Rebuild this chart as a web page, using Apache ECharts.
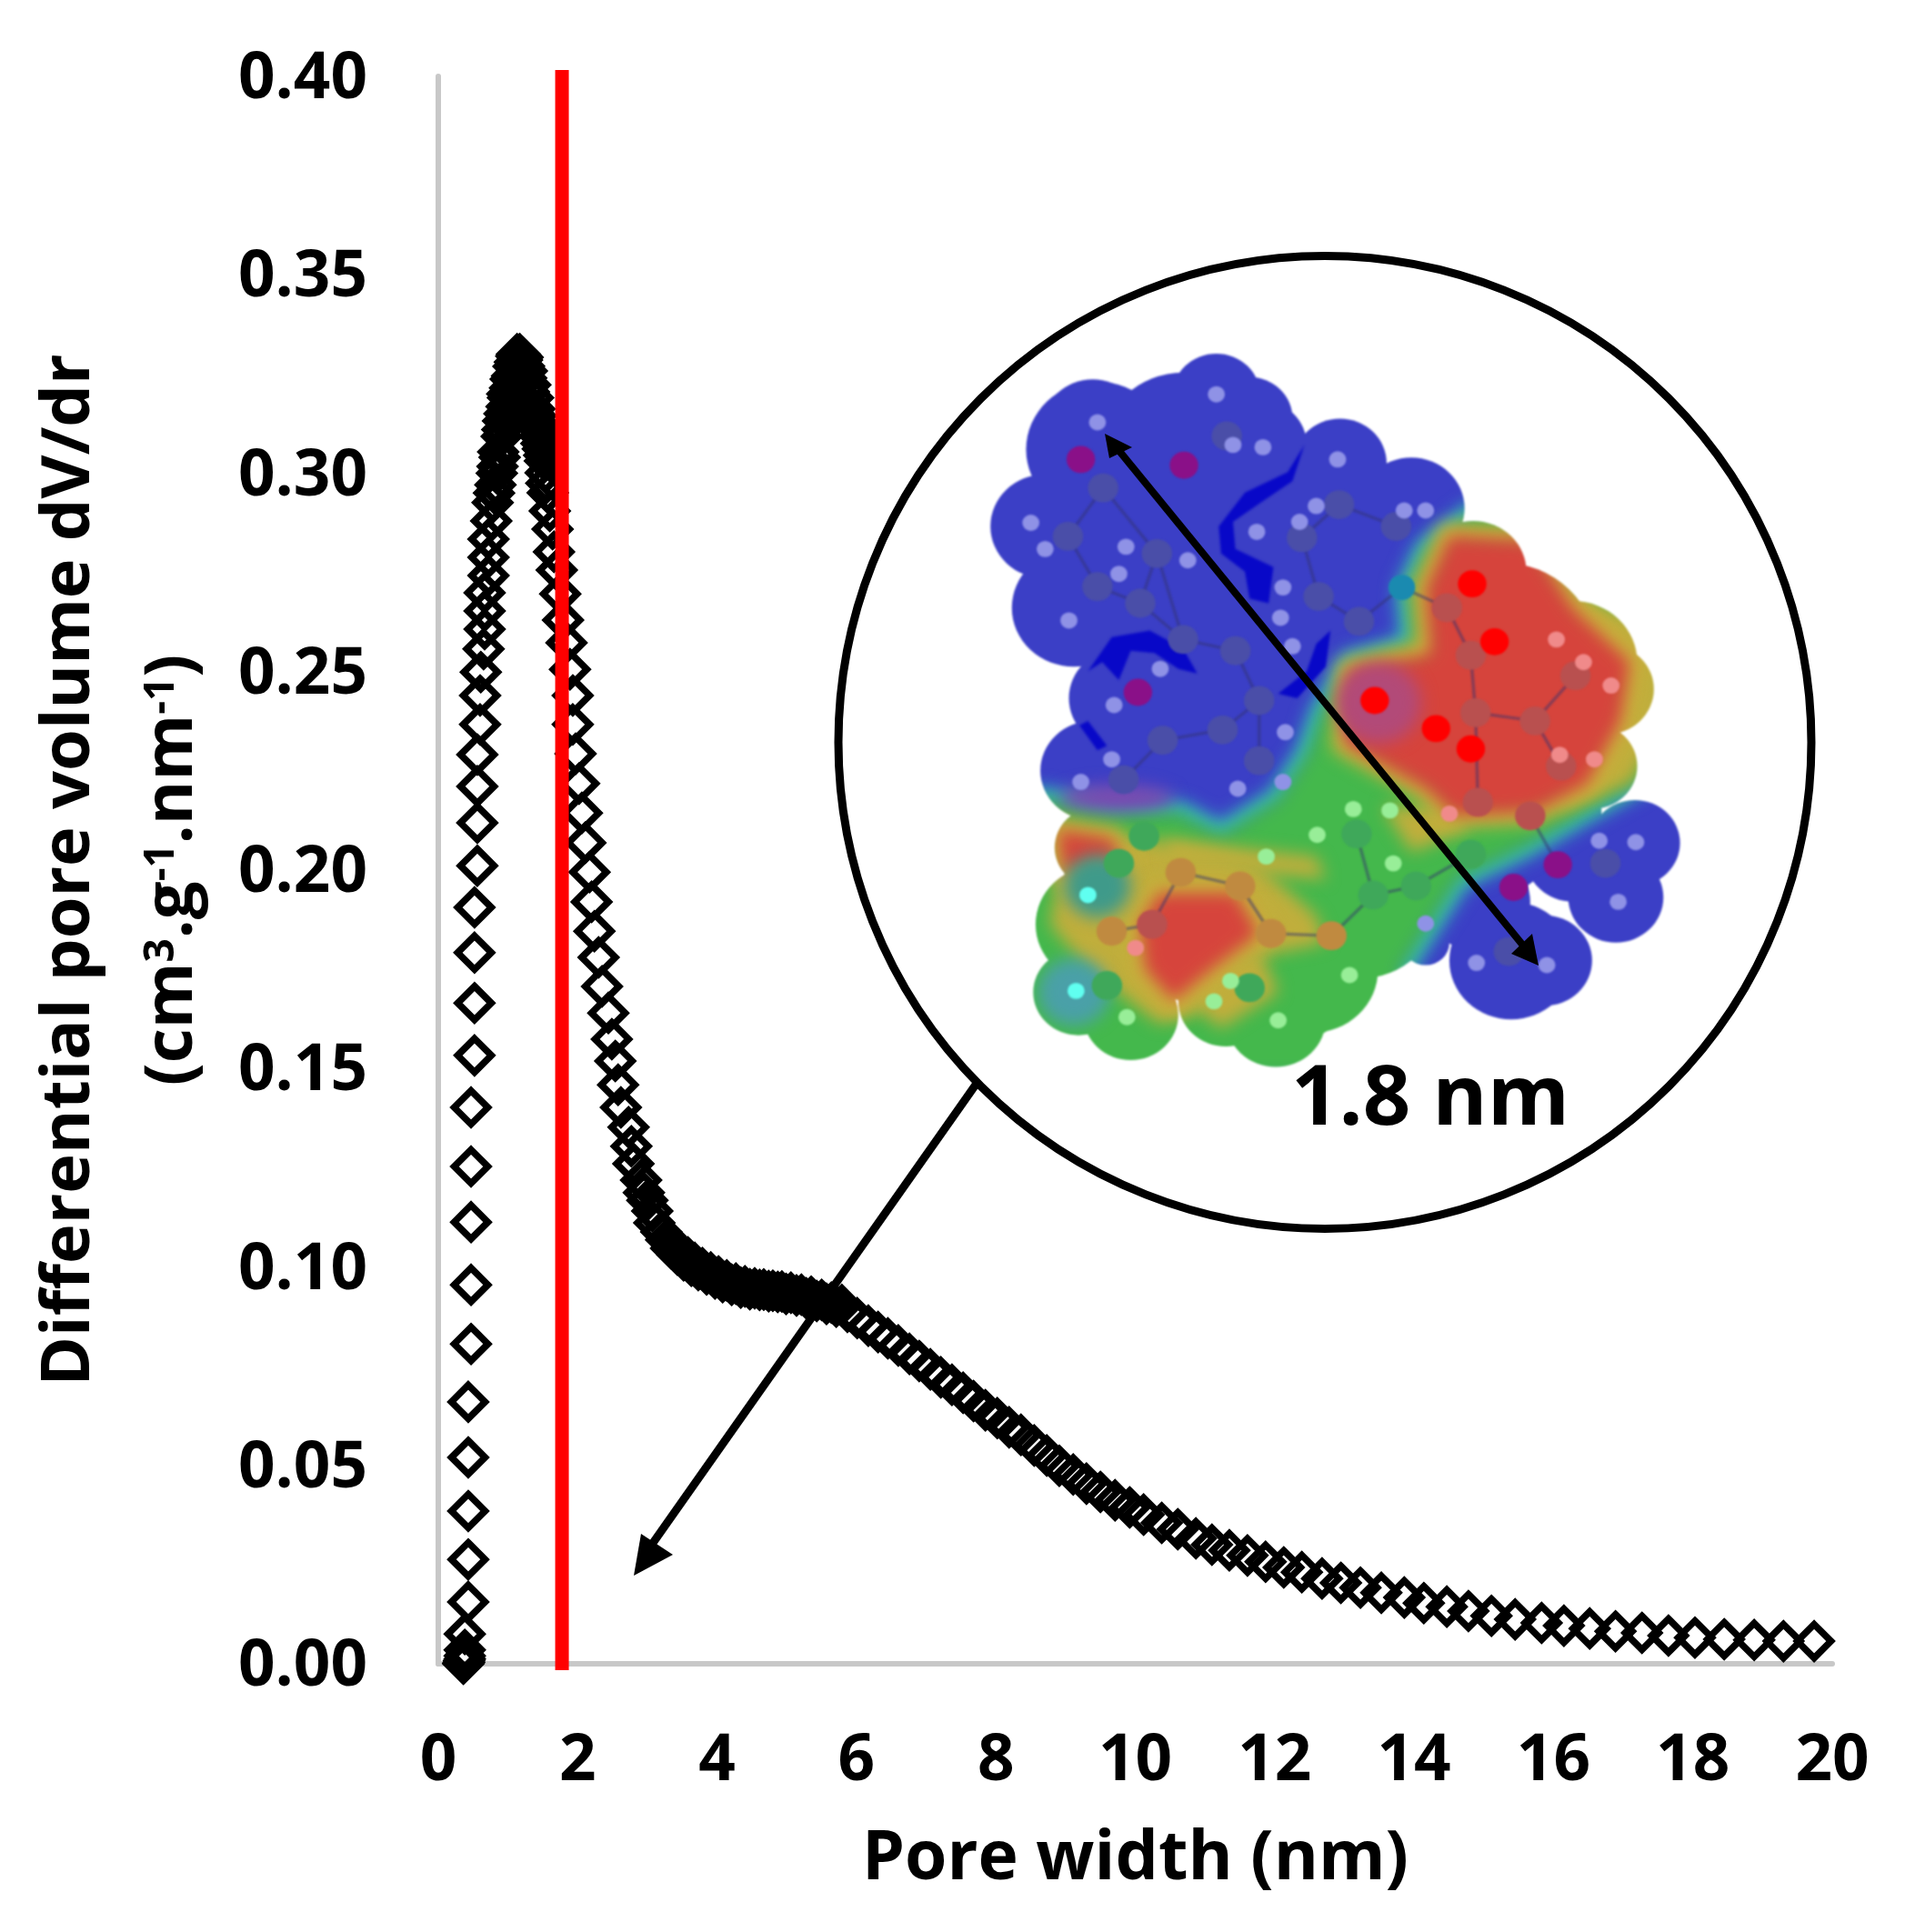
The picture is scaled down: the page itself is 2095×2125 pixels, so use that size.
<!DOCTYPE html>
<html>
<head>
<meta charset="utf-8">
<style>html,body{margin:0;padding:0;background:#fff}#c{width:2095px;height:2125px}</style>
<script src="https://cdn.jsdelivr.net/npm/echarts@6/dist/echarts.min.js"></script>
</head>
<body>
<div id="c"></div>
<script>
// ---------- chart values ----------
const xTicks = [0, 2, 4, 6, 8, 10, 12, 14, 16, 18, 20];
const yTicks = [0, 0.05, 0.10, 0.15, 0.20, 0.25, 0.30, 0.35, 0.40];
const microporeLimit = [1.775, 1.775];
const microporeLimitY = [-0.0016, 0.4016];
const poreWidth = [
0.36,0.36,0.37,0.37,0.38,0.38,0.38,0.38,0.43,0.43,0.43,0.43,0.43,0.47,0.47,0.47,0.47,0.47,0.52,0.52,
0.52,0.52,0.56,0.56,0.56,0.56,0.60,0.60,0.61,0.65,0.665,0.665,0.665,0.72,0.72,0.72,0.76,0.78,0.82,0.85,
0.86,0.91,0.93,0.98,0.99,1.04,1.08,1.12,1.15,1.18,1.21,1.27,1.32,1.36,1.38,1.42,1.46,1.50,1.53,1.54,
1.55,1.57,1.60,1.64,1.66,1.70,1.75,1.79,1.84,1.89,1.93,1.93,1.97,2.02,2.06,2.11,2.17,2.20,2.24,2.30,
2.35,2.44,2.49,2.54,2.58,2.62,2.73,2.77,2.80,2.91,2.95,3.00,3.07,3.10,3.20,3.27,3.34,3.43,3.52,3.63,
3.73,3.85,3.97,4.08,4.21,4.34,4.47,4.61,4.74,4.87,4.99,5.14,5.28,5.43,5.57,5.71,5.87,6.01,6.17,6.31,
6.45,6.60,6.76,6.90,7.06,7.21,7.37,7.53,7.68,7.85,8.02,8.19,8.36,8.55,8.73,8.91,9.11,9.30,9.50,9.71,
9.92,10.12,10.38,10.61,10.87,11.10,11.35,11.61,11.87,12.13,12.39,12.68,12.95,13.23,13.53,13.86,14.14,14.47,14.78,15.11,
15.45,15.83,16.15,16.52,16.89,17.27,17.65,18.03,18.45,18.88,19.30,19.74,
0.80,0.84,0.88,0.92,0.95,1.00,1.03,1.06,1.10,1.13,1.17,1.20,1.23,1.26,1.30,1.33,1.40,1.44,1.48,1.52,
3.38,3.48,3.58,3.68,3.79,3.91,4.02,4.14,4.27,4.40,4.54,4.67,4.80,4.93,5.06,5.21,5.35,5.50,5.64,5.79];
const poreVolume = [
0.0000,0.0002,0.0004,0.0008,0.0012,0.0020,0.0035,0.0075,0.0156,0.0263,0.0385,0.0520,0.0660,0.0806,0.0955,0.1113,0.1253,0.1402,0.1533,0.1665,
0.1792,0.1906,0.2011,0.2119,0.2211,0.2291,0.2367,0.2440,0.2499,0.2557,0.2607,0.2653,0.2699,0.2742,0.2788,0.2834,0.2880,0.2926,0.2971,0.3017,
0.3054,0.3093,0.3132,0.3168,0.3200,0.3237,0.3269,0.3295,0.3298,0.3296,0.3292,0.3258,0.3223,0.3190,0.3162,0.3128,0.3093,0.3061,0.3031,0.3001,
0.2975,0.2951,0.2905,0.2859,0.2802,0.2756,0.2696,0.2630,0.2573,0.2506,0.2440,0.2367,0.2293,0.2218,0.2144,0.2069,0.1995,0.1920,0.1846,0.1780,
0.1707,0.1640,0.1574,0.1519,0.1459,0.1402,0.1352,0.1304,0.1260,0.1219,0.1187,0.1168,0.1141,0.1111,0.1088,0.1068,0.1047,0.1031,0.1017,0.1003,
0.0992,0.0981,0.0971,0.0962,0.0955,0.0948,0.0944,0.0942,0.0939,0.0937,0.0932,0.0928,0.0921,0.0914,0.0907,0.0900,0.0887,0.0871,0.0852,0.0836,
0.0820,0.0802,0.0781,0.0763,0.0742,0.0722,0.0703,0.0683,0.0662,0.0639,0.0619,0.0596,0.0577,0.0550,0.0525,0.0499,0.0477,0.0454,0.0433,0.0412,
0.0394,0.0376,0.0355,0.0339,0.0316,0.0300,0.0286,0.0273,0.0257,0.0243,0.0231,0.0215,0.0204,0.0192,0.0179,0.0167,0.0153,0.0144,0.0133,0.0121,
0.0112,0.0103,0.0096,0.0089,0.0082,0.0078,0.0071,0.0066,0.0062,0.0060,0.0057,0.0057,
0.2950,0.3000,0.3040,0.3110,0.3150,0.3190,0.3215,0.3245,0.3280,0.3300,0.3300,0.3285,0.3270,0.3240,0.3205,0.3170,0.3145,0.3110,0.3075,0.3045,
0.1055,0.1038,0.1024,0.1010,0.0997,0.0986,0.0976,0.0966,0.0958,0.0951,0.0946,0.0943,0.0940,0.0938,0.0935,0.0930,0.0925,0.0917,0.0910,0.0904];
const xName = 'Pore width (nm)';
const yName1 = 'Differential pore volume dV/dr';
const insetLabel = '1.8 nm';

// ---------- molecule illustration (picture inset, its own coordinate frame) ----------
const surfaceLobes = [
[290,200,105],[300,250,150],[480,250,170],[550,130,92],[620,180,90],[640,240,100],[190,420,115],[250,600,130],[300,550,150],[400,450,220],
[650,400,200],[810,280,98],[960,380,112],[800,500,200],[900,450,150],[600,700,180],[350,800,110],[290,960,110],[390,670,100],[450,700,100],
[500,850,180],[650,950,120],[450,980,100],[1000,650,200],[1000,900,150],[1090,520,112],[1150,700,200],[1300,720,135],
[760,750,110],[820,800,130],[720,880,110],[850,950,120],[560,1100,130],[650,1160,130],[450,1100,130],[700,1150,160],[720,1290,130],[600,1280,130],[1150,1130,100],[1060,1100,100],[950,1000,110],
[1370,780,100],[1200,900,180],[1340,950,95],[1100,1000,130],[1250,1050,110],[800,1050,180],[850,1250,170],[1000,1150,130],
[1430,1120,95],[1390,1240,100],[1300,1150,100],[1170,1380,130],[1240,1380,100],[1100,1250,110],[990,1340,50],
[750,1400,140],[675,1510,105],[570,1470,100],[740,1480,70],[500,1300,170],[620,1380,130],[340,1380,130],
[300,1300,130],[400,1200,170],[300,1130,90],[260,1450,95],[370,1500,100]
];
const nonBlueZone = [[1090,390],[990,470],[950,560],[960,680],[830,720],[770,830],[740,920],[680,1020],[560,1100],[470,1050],[330,1050],[180,1020],[80,1100],[80,1640],[950,1640],[940,1400],[1000,1300],[1060,1200],[1200,1130],[1330,1050],[1450,980],[1500,950],[1568,950],[1568,380]];
const yellowZones = [
[[230,1120],[400,1110],[640,1170],[760,1280],[780,1340],[600,1380],[500,1500],[430,1520],[280,1400],[200,1300]],
[[440,1110],[760,1150],[780,1200],[450,1170]],
[[900,1040],[1040,1040],[1080,1090],[960,1140]],
[[1230,540],[1500,650],[1500,860],[1420,990],[1260,1050],[1400,780]],
[[510,1400],[640,1350],[680,1450],[560,1530],[500,1480]]
];
const redZones = [
[[1040,440],[1210,450],[1300,600],[1420,720],[1400,850],[1330,990],[1220,1050],[1050,1060],[990,1000],[820,900],[830,740],[1000,700],[990,560]],
[[430,1230],[590,1230],[640,1320],[540,1400],[460,1470],[400,1400],[390,1300]],
[[215,1090],[330,1110],[350,1160],[230,1190]]
];
const darkArcs = [
[[735,240],[700,300],[610,345],[555,420],[560,480],[610,520],[620,580],[660,590],[670,510],[590,470],[585,410],[640,370],[710,320]],
[[280,740],[330,665],[410,650],[480,690],[510,745],[470,735],[420,700],[370,695],[345,760],[310,720]],
[[790,650],[780,730],[720,800],[680,790],[740,740],[760,680]],
[[262,860],[300,915],[320,905],[280,850]]
];
const atomsH = [[300,190],[550,128],[585,240],[648,245],[805,272],[990,385],[945,385],[760,375],[725,410],[635,432],[160,412],[190,470],[360,465],[345,525],[240,628],[490,495],[690,555],[685,622],[710,685],[432,735],[335,815],[695,875],[595,1000],[690,985],[330,935],[265,985],[1355,1115],[1432,1118],[1395,1250],[1097,1385],[1245,1390],[990,1298]];
const atomsC = [[312,335],[238,442],[300,553],[390,590],[425,480],[572,220],[808,372],[928,420],[730,445],[765,575],[850,630],[590,695],[480,670],[640,805],[563,870],[437,893],[355,980],[640,938],[1368,1165],[1165,1360]];
const atomsOpurple = [[265,272],[482,285],[385,787],[1268,1168],[1175,1218]];
const atomsOred = [[1088,547],[1135,675],[883,805],[1012,867],[1085,912]];
const atomsCred = [[1035,600],[1085,705],[1095,832],[1220,850],[1305,750],[1275,950],[1100,1030],[1210,1060],[415,1300]];
const atomsHred = [[1265,670],[1322,720],[1380,772],[1272,925],[1345,935],[1040,1055],[380,1352]];
const atomsCgreen = [[845,1100],[880,1235],[970,1215],[1085,1145],[398,1105],[620,1440],[320,1435],[345,1165]];
const atomsHgreen = [[838,1045],[915,1048],[762,1102],[922,1165],[655,1150],[830,1412],[580,1425],[545,1470],[680,1512],[362,1505]];
const atomsHcyan = [[280,1235],[255,1447]];
const atomsCorange = [[475,1185],[600,1215],[665,1320],[792,1325],[330,1315]];
const bonds = [[312,335,238,442],[238,442,300,553],[300,553,390,590],[390,590,425,480],[425,480,312,335],[480,670,590,695],[590,695,640,805],[640,805,563,870],[563,870,437,893],[437,893,355,980],[640,805,640,938],[808,372,928,420],[808,372,730,445],[730,445,765,575],[765,575,850,630],[850,630,940,555],[940,555,1035,600],[1035,600,1085,705],[1085,705,1095,832],[1095,832,1220,850],[1220,850,1305,750],[1220,850,1275,950],[1095,832,1100,1030],[1210,1060,1268,1168],[1085,1145,970,1215],[970,1215,880,1235],[880,1235,792,1325],[792,1325,665,1320],[665,1320,600,1215],[600,1215,475,1185],[475,1185,415,1300],[415,1300,330,1315],[845,1100,880,1235],[390,590,480,670],[480,670,425,480]];

function poly(ctx, pts) {
  ctx.beginPath();
  pts.forEach((p, i) => i ? ctx.lineTo(p[0], p[1]) : ctx.moveTo(p[0], p[1]));
}
function buildMolecule() {
  const W = 830, H = 830, SX = 1 / 1.912, SY = 1 / 2.01;
  const mk = () => { const c = document.createElement('canvas'); c.width = W; c.height = H; return c; };
  const col = mk(), cc = col.getContext('2d');
  cc.filter = 'blur(9px)';
  cc.scale(SX, SY);
  cc.fillStyle = '#3b3fc6';
  cc.fillRect(-50, -50, 1700, 1800);
  cc.lineJoin = 'round';
  poly(cc, nonBlueZone); cc.closePath();
  cc.strokeStyle = '#35b4b8'; cc.lineWidth = 50; cc.stroke();
  cc.fillStyle = '#44b84c'; cc.fill();
  yellowZones.forEach(z => { poly(cc, z); cc.closePath(); cc.fillStyle = '#c0ae3c'; cc.fill(); });
  redZones.forEach(z => {
    poly(cc, z); cc.closePath();
    cc.strokeStyle = '#c9b23c'; cc.lineWidth = 56; cc.stroke();
    cc.fillStyle = '#d6443c'; cc.fill();
  });
  cc.fillStyle = '#b24a78';
  cc.beginPath(); cc.arc(890, 810, 90, 0, 7); cc.fill();
  cc.fillStyle = '#4aa0a8';
  cc.beginPath(); cc.arc(250, 1450, 75, 0, 7); cc.fill();
  cc.fillStyle = '#3f9a8a';
  cc.beginPath(); cc.arc(300, 1215, 70, 0, 7); cc.fill();
  cc.fillStyle = '#7a4ab0';
  cc.beginPath(); cc.ellipse(340, 1020, 120, 30, 0, 0, 7); cc.fill();

  cc.filter = 'blur(1.5px)';
  cc.fillStyle = '#0808c8';
  darkArcs.forEach(a => { poly(cc, a); cc.closePath(); cc.fill(); });

  const mask = mk(), mc = mask.getContext('2d');
  mc.scale(SX, SY);
  mc.fillStyle = '#000';
  surfaceLobes.forEach(l => { mc.beginPath(); mc.arc(l[0], l[1], l[2], 0, 7); mc.fill(); });
  cc.setTransform(1, 0, 0, 1, 0, 0);
  cc.filter = 'blur(1px)';
  cc.globalCompositeOperation = 'destination-in';
  cc.drawImage(mask, 0, 0);
  cc.globalCompositeOperation = 'source-over';
  cc.filter = 'blur(0.8px)';
  cc.scale(SX, SY);
  cc.strokeStyle = 'rgba(50,50,110,0.45)'; cc.lineWidth = 7; cc.lineCap = 'butt';
  bonds.forEach(b => { cc.beginPath(); cc.moveTo(b[0], b[1]); cc.lineTo(b[2], b[3]); cc.stroke(); });
  const draw = (list, r, c) => {
    cc.fillStyle = c;
    list.forEach(a => { cc.beginPath(); cc.arc(a[0], a[1], r, 0, 7); cc.fill(); });
  };
  draw(atomsC, 32, '#4a4ea8');
  draw(atomsCred, 32, '#b9504f');
  draw(atomsCgreen, 32, '#3fa85a');
  draw(atomsCorange, 32, '#c08a40');
  draw([[940,555]], 28, '#1a8ab0');
  draw(atomsOpurple, 30, '#8a1088');
  draw(atomsOred, 30, '#ff0000');
  draw(atomsH, 18, '#8f92e6');
  draw(atomsHred, 18, '#f08a8a');
  draw(atomsHgreen, 18, '#98ee98');
  draw(atomsHcyan, 18, '#60fff0');
  return col;
}

const BLK = '#000';
const FONT = '"Open Sans", sans-serif';
const chart = echarts.init(document.getElementById('c'), null, { renderer: 'canvas', width: 2095, height: 2125 });
chart.setOption({
  backgroundColor: '#fff',
  animation: false,
  grid: { left: 482, top: 84, width: 1533, height: 1746, containLabel: false, outerBoundsMode: 'none' },
  xAxis: {
    type: 'value', min: 0, max: 20, interval: 2,
    axisLine: { show: true, onZero: false, lineStyle: { color: '#c8c8c8', width: 6 } },
    axisTick: { show: false }, splitLine: { show: false },
    axisLabel: { color: BLK, fontFamily: FONT, fontWeight: 700, fontSize: 71, margin: 72,
      formatter: v => xTicks.includes(v) ? String(v) : '' , hideOverlap: false, showMinLabel: true, showMaxLabel: true},
    name: xName, nameLocation: 'middle', nameGap: 178,
    nameTextStyle: { color: BLK, fontFamily: FONT, fontWeight: 700, fontSize: 75 }
  },
  yAxis: {
    type: 'value', min: 0, max: 0.4, interval: 0.05,
    axisLine: { show: true, onZero: false, lineStyle: { color: '#c8c8c8', width: 6 } },
    axisTick: { show: false }, splitLine: { show: false },
    axisLabel: { margin: 78,
      rich: { v: { color: BLK, fontFamily: FONT, fontWeight: 700, fontSize: 71, padding: [8, 0, 0, 0] } },
      formatter: v => yTicks.some(t => Math.abs(t - v) < 1e-6) ? `{v|${v.toFixed(2)}}` : '' },
    name: `{a|${yName1}}\n{b|(cm}{s|3}{b|.g}{s|-1}{b|.nm}{s|-1}{b|)}`,
    nameLocation: 'middle', nameGap: 236, nameRotate: 90,
    nameTextStyle: { color: BLK, rich: {
      a: { fontFamily: FONT, fontWeight: 700, fontSize: 74, color: BLK, lineHeight: 113 },
      b: { fontFamily: FONT, fontWeight: 700, fontSize: 74, color: BLK, lineHeight: 113 },
      s: { fontFamily: FONT, fontWeight: 700, fontSize: 46, color: BLK, lineHeight: 50, verticalAlign: 'top', padding: [22, 0, 0, 0] }
    } }
  },
  series: [
    { type: 'scatter', symbol: 'diamond', symbolSize: 37, clip: false, z: 2, large: false,
      itemStyle: { color: 'rgba(0,0,0,0)', borderColor: BLK, borderWidth: 7.5, opacity: 1 },
      data: poreWidth.map((x, i) => [x, poreVolume[i]]) },
    { type: 'line', symbol: 'none', clip: false, z: 3,
      lineStyle: { color: '#ff0000', width: 15, cap: 'butt' },
      data: microporeLimit.map((x, i) => [x, microporeLimitY[i]]) }
  ],
  graphic: { elements: [
    { type: 'circle', z: 5, shape: { cx: 1457, cy: 816.5, r: 535 }, style: { fill: 'none', stroke: BLK, lineWidth: 9 } },
    { type: 'image', z: 6, style: { image: buildMolecule(), x: 1050, y: 370, width: 830, height: 830 } },
    { type: 'line', z: 7, shape: { x1: 1073, y1: 1193, x2: 716, y2: 1700 }, style: { stroke: BLK, lineWidth: 9 } },
    { type: 'polygon', z: 7, shape: { points: [[697,1733],[705,1687],[740,1710]] }, style: { fill: BLK } },
    { type: 'line', z: 8, shape: { x1: 1226, y1: 490, x2: 1680, y2: 1046 }, style: { stroke: BLK, lineWidth: 8 } },
    { type: 'polygon', z: 8, shape: { points: [[1215,477],[1245,492],[1220,504]] }, style: { fill: BLK } },
    { type: 'polygon', z: 8, shape: { points: [[1692,1062],[1662,1049],[1685,1027]] }, style: { fill: BLK } },
    { type: 'text', z: 9, x: 1573, y: 1211, style: { text: insetLabel, fill: BLK, font: '700 92px ' + FONT, textAlign: 'center', textVerticalAlign: 'middle' } }
  ] }
});
</script>
</body>
</html>
